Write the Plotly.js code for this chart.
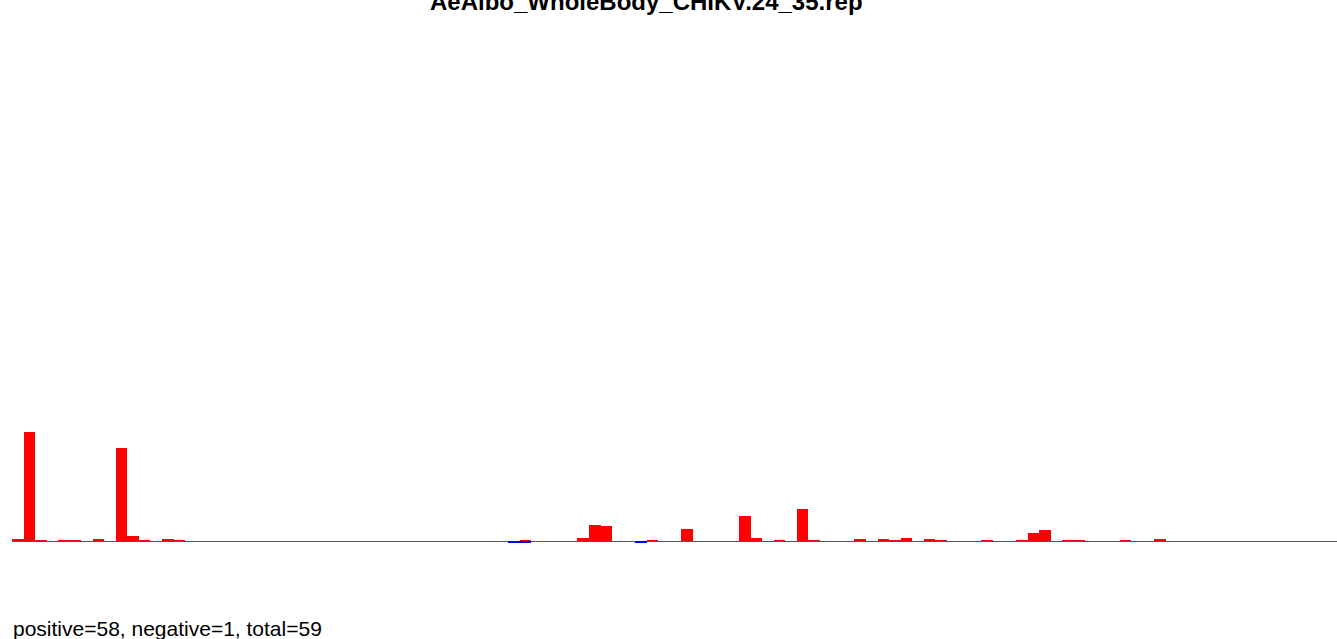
<!DOCTYPE html>
<html>
<head>
<meta charset="utf-8">
<script src="https://cdn.plot.ly/plotly-3.0.1.min.js"></script>
<style>html,body{margin:0;padding:0;overflow:hidden;background:#fff}#chart{width:1337px;height:639px}</style>
</head>
<body>
<div id="chart"></div>
<script>
const chartTitle = "AeAlbo_WholeBody_CHIKV.24_35.rep";
const footerText = "positive=58, negative=1, total=59";
// positive bar heights by bin index
const posBins = [0,1,2,4,5,7,9,10,11,13,14,44,49,50,51,55,58,63,64,66,68,69,73,75,76,77,79,80,84,87,88,89,91,92,96,99];
const posVals = [2,109,1,1,1,2,93,5,1,2,1,1.3,3,16,15,1.3,12,25,3,1,32,1,2.5,2.5,1.3,3,2.5,1.3,1.3,1.3,8,11,1.3,1.3,1.3,2.5];
// negative bar heights by bin index
const negBins = [43,44,54];
const negVals = [-2,-2,-2];

const L = 12, T = 40, B = 39, W = 1337, H = 639;
const plotW = W - L, plotH = H - T - B;
const binPx = 11.54;
const xMax = -0.5 + plotW / binPx;

const traces = [
  {type:'bar', x: posBins, y: posVals, marker:{color:'#ff0000', line:{width:0}}, width:1, hoverinfo:'x+y'},
  {type:'bar', x: negBins, y: negVals, marker:{color:'#0000ff', line:{width:0}}, width:1, hoverinfo:'x+y'}
];

const layout = {
  width: W, height: H,
  margin: {l: L, r: 0, t: T, b: B, pad: 0},
  paper_bgcolor: '#fff', plot_bgcolor: '#fff',
  showlegend: false,
  barmode: 'relative', bargap: 0,
  xaxis: {range: [-0.5, xMax], showgrid: false, zeroline: false, showticklabels: false, ticks: '', showline: false, fixedrange: true},
  yaxis: {range: [-59, 501], showgrid: false, zeroline: true, zerolinecolor: '#555555', zerolinewidth: 1, showticklabels: false, ticks: '', showline: false, fixedrange: true},
  font: {family: 'Liberation Sans, Arial, sans-serif', color: '#000'},
  annotations: [
    {text: '<b>' + chartTitle + '</b>', xref: 'paper', yref: 'paper',
     x: (646 - L) / plotW, y: 1 + (T - 1) / plotH, xanchor: 'center', yanchor: 'middle',
     showarrow: false, font: {size: 24, family: 'Liberation Sans, Arial, sans-serif', color: '#000'}},
    {text: footerText, xref: 'paper', yref: 'paper',
     x: -1 / plotW, y: -(628 - (T + plotH)) / plotH, xanchor: 'left', yanchor: 'middle',
     showarrow: false, font: {size: 21, family: 'Liberation Sans, Arial, sans-serif', color: '#000'}}
  ]
};

Plotly.newPlot('chart', traces, layout, {displayModeBar: false, staticPlot: true});
</script>
</body>
</html>
